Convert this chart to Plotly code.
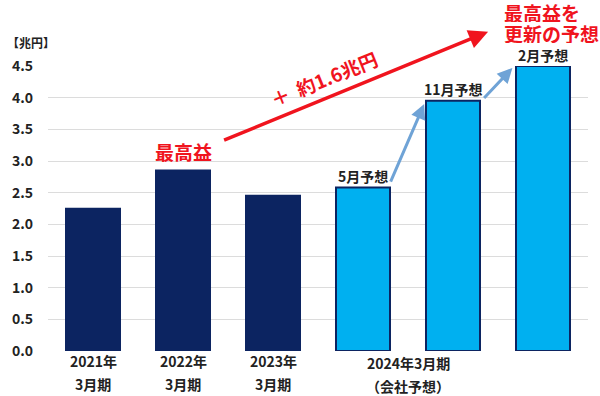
import plotly.graph_objects as go

# ---- data ----
bar_ids = ["2021年3月期", "2022年3月期", "2023年3月期", "5月予想", "11月予想", "2月予想"]
net_income = [2.245, 2.850, 2.451, 2.58, 3.95, 4.50]
forecast_labels = ["5月予想", "11月予想", "2月予想"]
period_line1 = ["2021年", "2022年", "2023年", "2024年3月期"]
period_line2 = ["3月期", "3月期", "3月期", "（会社予想）"]
note_lines = ["最高益を", "更新の予想"]
y_ticks = [0.0, 0.5, 1.0, 1.5, 2.0, 2.5, 3.0, 3.5, 4.0, 4.5]

NAVY = "#0c2461"
LIGHT = "#00b0f0"
RED = "#f0141e"
STEEL = "#6fa3d6"
FONT = "Noto Sans CJK JP"

x_pos = list(range(len(bar_ids)))
fill = [NAVY, NAVY, NAVY, LIGHT, LIGHT, LIGHT]

fig = go.Figure()
fig.add_trace(go.Bar(
    x=x_pos, y=net_income, width=0.6,
    marker=dict(color=fill, line=dict(color=NAVY, width=2)),
    hoverinfo="skip",
))

ann = []
# x-axis period labels
label_x = [0, 1, 2, 3.5]
for i, (l1, l2) in enumerate(zip(period_line1, period_line2)):
    s1, s2 = (-12, -35) if i == 3 else (-10, -33)
    ann.append(dict(x=label_x[i], y=0, xref="x", yref="paper", text=l1, showarrow=False,
                    yanchor="middle", yshift=s1, font=dict(size=14, color="#222222", family=FONT, weight="bold")))
    ann.append(dict(x=label_x[i], y=0, xref="x", yref="paper", text=l2, showarrow=False,
                    yanchor="middle", yshift=s2, font=dict(size=14, color="#222222", family=FONT, weight="bold")))

# forecast labels above light bars
for k, lab in enumerate(forecast_labels):
    i = 3 + k
    ann.append(dict(x=i, y=net_income[i], xref="x", yref="y", text=lab, showarrow=False,
                    yanchor="bottom", yshift=-1 if k == 2 else 0,
                    font=dict(size=14, color="#222222", family=FONT, weight="bold")))

# record-high label
ann.append(dict(x=1, y=net_income[1], xref="x", yref="y", text="最高益", showarrow=False,
                yanchor="bottom", yshift=4, font=dict(size=19, color=RED, family=FONT, weight="bold")))

# red arrow
ann.append(dict(x=4.39, y=5.04, ax=1.44, ay=3.32, xref="x", yref="y", axref="x", ayref="y",
                showarrow=True, arrowhead=2, arrowsize=1.1, arrowwidth=3.5, arrowcolor=RED, text=""))
ann.append(dict(x=2.56, y=4.31, xref="x", yref="y", text="＋  約1.6兆円", showarrow=False,
                textangle=-22, font=dict(size=19, color=RED, family=FONT, weight="bold")))

# blue arrows between forecasts
ann.append(dict(x=3.68, y=net_income[4] - 0.05, ax=3.3, ay=net_income[3] + 0.07,
                xref="x", yref="y", axref="x", ayref="y", showarrow=True, arrowhead=2,
                arrowsize=1.0, arrowwidth=3, arrowcolor=STEEL, text=""))
ann.append(dict(x=4.66, y=net_income[5] - 0.03, ax=4.33, ay=net_income[4] + 0.02,
                xref="x", yref="y", axref="x", ayref="y", showarrow=True, arrowhead=2,
                arrowsize=1.0, arrowwidth=3, arrowcolor=STEEL, text=""))

# top-right red note (two lines, tight spacing)
for line, py in zip(note_lines, [12.5, 33]):
    ann.append(dict(x=0.8407, y=(351 - py) / 285, xref="paper", yref="paper",
                    text=line, showarrow=False, xanchor="left", yanchor="middle", height=19,
                    font=dict(size=19, color=RED, family=FONT, weight="bold")))

# unit label
ann.append(dict(x=-0.0796, y=(351 - 43) / 285, xref="paper", yref="paper", text="【兆円】",
                showarrow=False, xanchor="left", yanchor="middle",
                font=dict(size=12, color="#222222", family=FONT, weight="bold")))

fig.update_layout(
    width=600, height=396,
    margin=dict(l=48, r=12, t=66, b=45),
    paper_bgcolor="white", plot_bgcolor="white",
    showlegend=False,
    annotations=ann,
    xaxis=dict(range=[-0.5, 5.5], showticklabels=False, showgrid=False, zeroline=False, showline=False),
    yaxis=dict(range=[0, 4.5], tickvals=y_ticks, tickformat=".1f", showgrid=True,
               gridcolor="#dcdcdc", gridwidth=1, zeroline=False, showline=False,
               ticklabelstandoff=14,
               tickfont=dict(size=14, color="#222222", family=FONT, weight="bold")),
)

fig.write_html("out.html", config={"displayModeBar": False},
               post_script="document.body.style.margin='0';document.body.style.padding='0';")
